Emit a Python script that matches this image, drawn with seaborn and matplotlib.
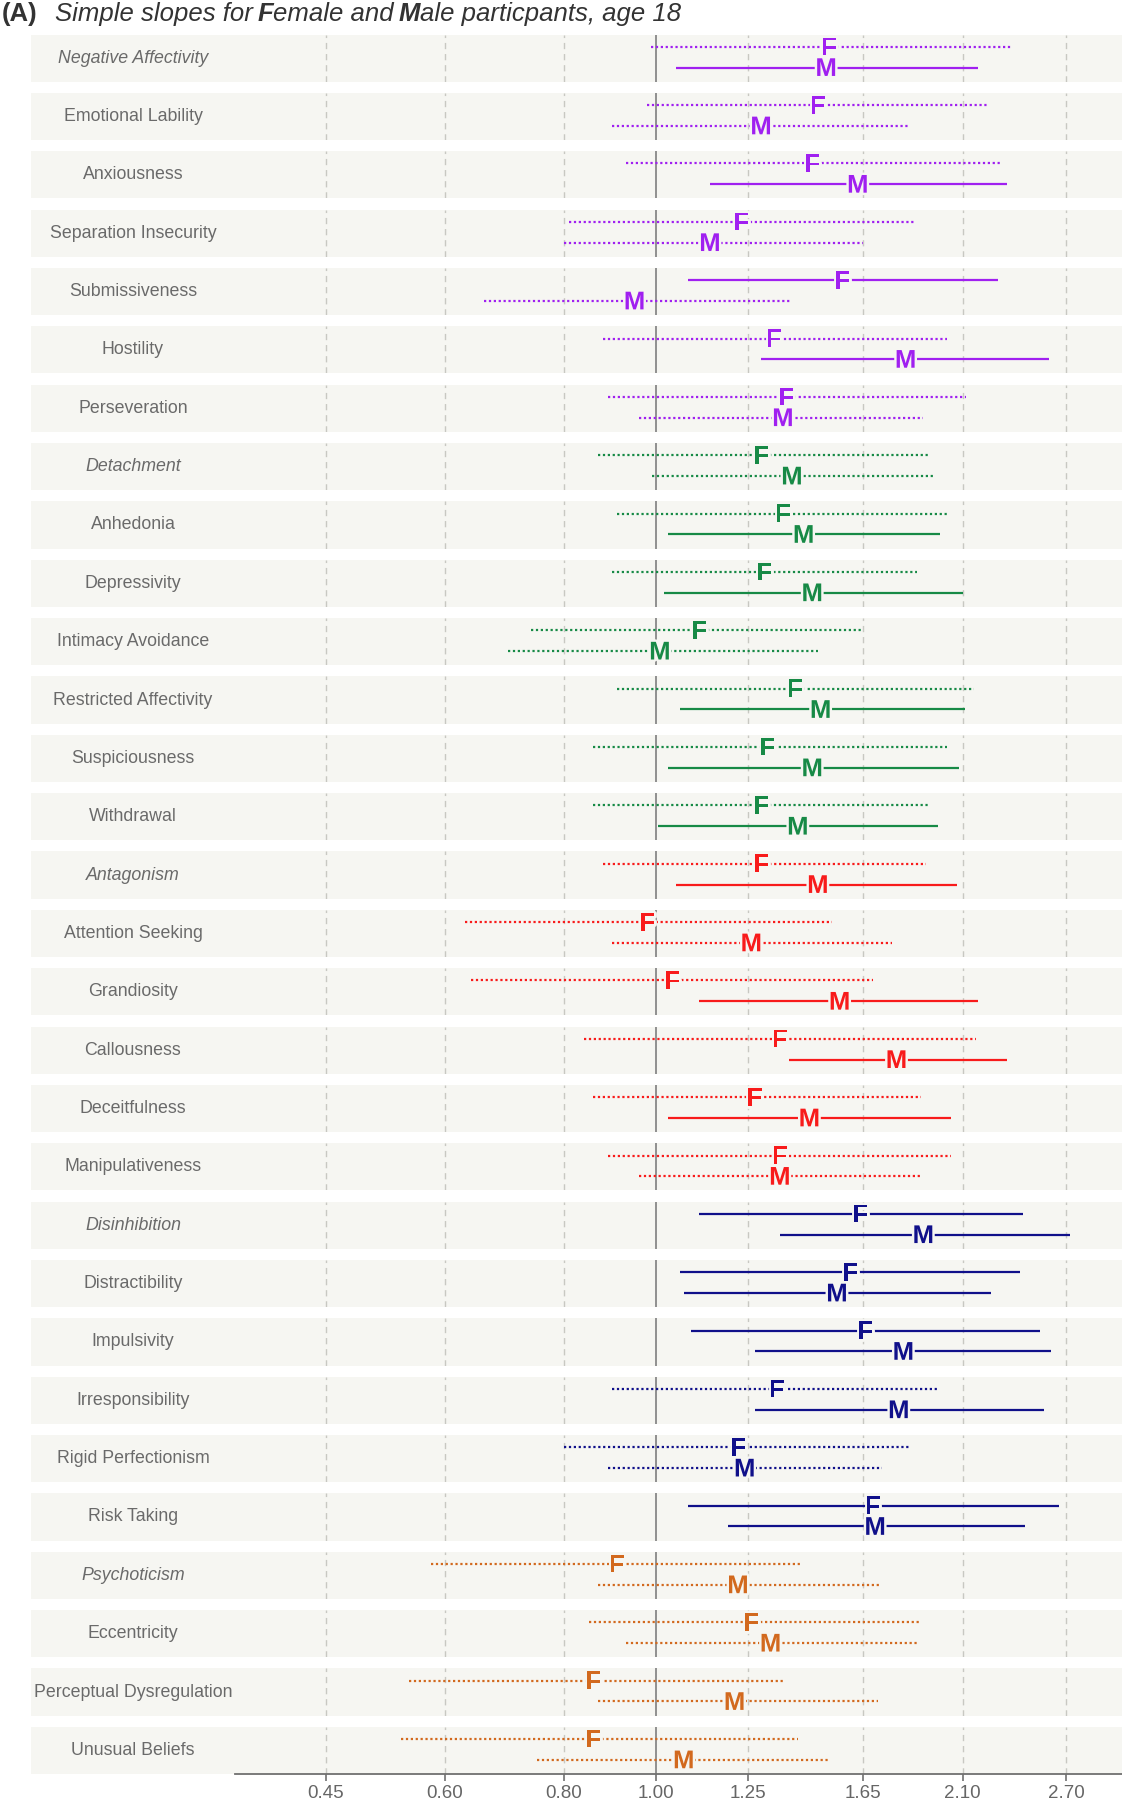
import matplotlib
matplotlib.use("Agg")
import matplotlib.pyplot as plt
import matplotlib.patheffects as pe
from matplotlib.patches import Rectangle
from matplotlib.ticker import FixedLocator, FixedFormatter, NullLocator
from matplotlib.transforms import IdentityTransform
import pandas as pd
import seaborn as sns

# ---- data (odds ratios) ----
traits = ["Negative Affectivity", "Emotional Lability", "Anxiousness", "Separation Insecurity",
          "Submissiveness", "Hostility", "Perseveration",
          "Detachment", "Anhedonia", "Depressivity", "Intimacy Avoidance",
          "Restricted Affectivity", "Suspiciousness", "Withdrawal",
          "Antagonism", "Attention Seeking", "Grandiosity", "Callousness",
          "Deceitfulness", "Manipulativeness",
          "Disinhibition", "Distractibility", "Impulsivity", "Irresponsibility",
          "Rigid Perfectionism", "Risk Taking",
          "Psychoticism", "Eccentricity", "Perceptual Dysregulation", "Unusual Beliefs"]
domain_names = ["Negative Affectivity", "Detachment", "Antagonism", "Disinhibition", "Psychoticism"]
trait_domain = (["Negative Affectivity"] * 7 + ["Detachment"] * 7 + ["Antagonism"] * 6
                + ["Disinhibition"] * 6 + ["Psychoticism"] * 4)

f_est = [1.52, 1.48, 1.46, 1.23, 1.57, 1.33, 1.37, 1.29, 1.36, 1.30, 1.11, 1.40, 1.31, 1.29,
         1.29, 0.98, 1.04, 1.35, 1.27, 1.35, 1.64, 1.60, 1.66, 1.34, 1.22, 1.69,
         0.91, 1.26, 0.86, 0.86]
f_lo = [0.989, 0.98, 0.93, 0.81, 1.08, 0.88, 0.89, 0.87, 0.91, 0.90, 0.74, 0.91, 0.86, 0.86,
        0.88, 0.63, 0.64, 0.84, 0.86, 0.89, 1.11, 1.06, 1.09, 0.90, 0.80, 1.08,
        0.58, 0.85, 0.55, 0.54]
f_hi = [2.36, 2.24, 2.30, 1.87, 2.29, 2.02, 2.12, 1.93, 2.03, 1.88, 1.65, 2.16, 2.02, 1.93,
        1.92, 1.53, 1.69, 2.17, 1.90, 2.04, 2.43, 2.41, 2.53, 1.98, 1.85, 2.65,
        1.42, 1.89, 1.36, 1.41]
m_est = [1.51, 1.29, 1.63, 1.14, 0.95, 1.83, 1.36, 1.39, 1.43, 1.46, 1.01, 1.49, 1.46, 1.41,
         1.48, 1.26, 1.56, 1.79, 1.45, 1.35, 1.91, 1.55, 1.82, 1.80, 1.24, 1.70,
         1.22, 1.32, 1.21, 1.07]
m_lo = [1.05, 0.90, 1.14, 0.80, 0.66, 1.29, 0.96, 0.99, 1.03, 1.02, 0.70, 1.06, 1.03, 1.005,
        1.05, 0.90, 1.11, 1.38, 1.03, 0.96, 1.35, 1.07, 1.27, 1.27, 0.89, 1.19,
        0.87, 0.93, 0.87, 0.75]
m_hi = [2.18, 1.85, 2.34, 1.65, 1.39, 2.59, 1.91, 1.96, 1.99, 2.10, 1.48, 2.11, 2.08, 1.98,
        2.07, 1.77, 2.18, 2.34, 2.04, 1.90, 2.72, 2.25, 2.60, 2.56, 1.73, 2.44,
        1.72, 1.88, 1.71, 1.52]

x_ticks = [0.45, 0.60, 0.80, 1.00, 1.25, 1.65, 2.10, 2.70]
tick_labels = ["0.45", "0.60", "0.80", "1.00", "1.25", "1.65", "2.10", "2.70"]

domain_colors = {"Negative Affectivity": "#A020F0", "Detachment": "#178A46",
                 "Antagonism": "#F81B1B", "Disinhibition": "#10108A",
                 "Psychoticism": "#D2691E"}
sex_y = {"Female": 0.74, "Male": 0.30}
panel_bg = "#F6F6F2"

rows = []
for i, t in enumerate(traits):
    rows.append(dict(trait=t, domain=trait_domain[i], sex="Female",
                     est=f_est[i], lo=f_lo[i], hi=f_hi[i]))
    rows.append(dict(trait=t, domain=trait_domain[i], sex="Male",
                     est=m_est[i], lo=m_lo[i], hi=m_hi[i]))
df = pd.DataFrame(rows)

sns.set_theme(style="white")
plt.rcParams['font.family'] = ['Liberation Sans', 'DejaVu Sans']


def draw_trait(data, color=None, label=None):
    ax = plt.gca()
    for _, r in data.iterrows():
        col = domain_colors[r['domain']]
        y = sex_y[r['sex']]
        sig = r['lo'] > 1 or r['hi'] < 1
        ax.plot([r['lo'], r['hi']], [y, y], color=col, lw=1.6,
                ls='-' if sig else (0, (1, 1.2)), solid_capstyle='butt', zorder=3)
        ax.text(r['est'], y - 0.03, r['sex'][0], ha='center', va='center', color=col,
                fontsize=18.5, fontweight='bold', zorder=4,
                path_effects=[pe.withStroke(linewidth=3.5, foreground=panel_bg)])


g = sns.FacetGrid(df, row="trait", row_order=traits, height=0.6, aspect=18.7,
                  sharex=True, sharey=True, despine=False)
g.map_dataframe(draw_trait)
g.set_titles("")
g.set(xscale="log", xlim=(0.3614, 3.088), ylim=(0, 1), xlabel="", ylabel="")

fig = g.figure
fig.subplots_adjust(left=235 / 1122, right=1.0, top=1 - 34.5 / 1800,
                    bottom=1 - 1774 / 1800, hspace=0.2364)

axes = g.axes.flatten()
for ax, t in zip(axes, traits):
    ax.set_facecolor(panel_bg)
    ax.add_patch(Rectangle((-0.2295, 0), 0.2300, 1, transform=ax.transAxes,
                           facecolor=panel_bg, edgecolor='none', lw=0,
                           clip_on=False, zorder=-5))
    for xt in x_ticks:
        if xt == 1.0:
            ax.axvline(xt, color="#7F7F7F", lw=1.2, zorder=2)
        else:
            ax.axvline(xt, color="#C8C8C2", lw=1.0, ls=(0, (4.5, 3.5)), zorder=1)
    ax.text(-0.115, 0.5, t, transform=ax.transAxes, ha='center', va='center',
            fontsize=12.8, color="#6A6A6A",
            style='italic' if t in domain_names else 'normal')
    for s in ax.spines.values():
        s.set_visible(False)
    ax.set_yticks([])
    ax.tick_params(bottom=False, labelbottom=False, left=False)

ax0 = axes[-1]
ax0.xaxis.set_major_locator(FixedLocator(x_ticks))
ax0.xaxis.set_major_formatter(FixedFormatter(tick_labels))
ax0.xaxis.set_minor_locator(NullLocator())
ax0.spines['bottom'].set_visible(True)
ax0.spines['bottom'].set_color("#707070")
ax0.spines['bottom'].set_linewidth(1.3)
ax0.tick_params(bottom=True, labelbottom=True, length=5, width=1.2, color="#707070",
                labelcolor="#666666", labelsize=13.5, pad=3)

# title with mixed bold / italic pieces
renderer = fig.canvas.get_renderer()
fs = 18.5
x = 2
base = 1800 - 21
pieces = [("(A)", "normal", "bold", 17), ("Simple slopes for", "italic", "normal", 5),
          ("F", "italic", "bold", 0), ("emale and", "italic", "normal", 5),
          ("M", "italic", "bold", 0), ("ale particpants, age 18", "italic", "normal", 0)]
for txt, sty, wt, gap in pieces:
    tt = fig.text(x, base, txt, transform=IdentityTransform(), fontsize=fs, style=sty,
                  fontweight=wt, color="#333333", va='baseline', ha='left')
    x += tt.get_window_extent(renderer).width + gap

fig.savefig("out.png", dpi=100)
